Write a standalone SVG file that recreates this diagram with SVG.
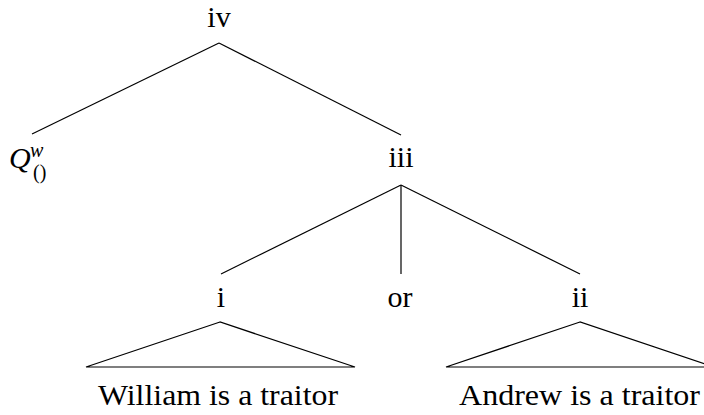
<svg xmlns="http://www.w3.org/2000/svg" width="704" height="415" viewBox="0 0 704 415">
<style>
.lbl{font-size:30px;text-anchor:middle}
.big{font-size:29px}
line{stroke:#000;stroke-width:1.2;fill:none}
.tri{fill:none;stroke:#000;stroke-width:1.2}
</style>
<rect width="704" height="415" fill="#fff"/>
<g id="connectors">
<line x1="219" y1="43" x2="32" y2="134"/>
<line x1="219" y1="43" x2="401" y2="135"/>
<line x1="401" y1="185" x2="221" y2="274"/>
<line x1="401" y1="185" x2="401" y2="274"/>
<line x1="401" y1="185" x2="580" y2="274"/>
</g>
<g font-family="'Liberation Serif', 'Times New Roman', serif" fill="#000">
<g id="iv"><text class="lbl" x="219" y="27">iv</text></g>
<g id="Q"><text x="9" y="168" font-size="30" font-style="italic">Q</text><text x="30" y="157" font-size="20" font-style="italic">w</text><text x="33" y="179" font-size="20">()</text></g>
<g id="iii"><text class="lbl" x="401" y="167">iii</text></g>
<g id="i"><text class="lbl" x="221" y="307">i</text></g>
<g id="or"><text class="lbl" x="400" y="307">or</text></g>
<g id="ii"><text class="lbl" x="580" y="307">ii</text></g>
<g id="triangle-i"><polygon class="tri" points="220,322 86,367 355,367"/><text class="big" x="98" y="405" textLength="240" lengthAdjust="spacingAndGlyphs">William is a traitor</text></g>
<g id="triangle-ii"><polygon class="tri" points="580,322 446,367 714,367"/><text class="big" x="459" y="405" textLength="241" lengthAdjust="spacingAndGlyphs">Andrew is a traitor</text></g>
</g>
</svg>
